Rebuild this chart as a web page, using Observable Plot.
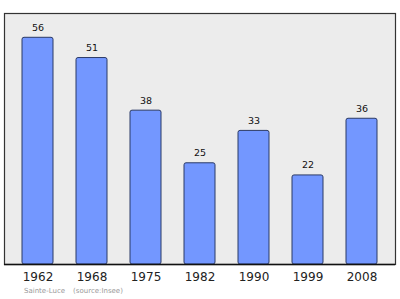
<!DOCTYPE html>
<html>
<head>
<meta charset="utf-8">
<script src="https://cdn.jsdelivr.net/npm/d3@7"></script>
<script src="https://cdn.jsdelivr.net/npm/@observablehq/plot@0.6"></script>
<style>
  body { margin: 0; background: #fff; font-family: "DejaVu Sans", sans-serif; }
  #chart { width: 400px; }
  #chart svg { display: block; }
  .caption { font-size: 7px; line-height: 8px; color: #999; margin: 0 0 0 24px; word-spacing: 1px; }
  .caption span { margin-left: 8px; }
</style>
</head>
<body>
<div id="chart"></div>
<script>
// Population of Sainte-Luce by census year
const years = ["1962", "1968", "1975", "1982", "1990", "1999", "2008"];
const population = [56, 51, 38, 25, 33, 22, 36];

const data = years.map((year, i) => ({year, value: population[i]}));

const plot = Plot.plot({
  width: 400,
  height: 287,
  marginTop: 13,
  marginBottom: 23,
  marginLeft: 4,
  marginRight: 5,
  style: {fontFamily: "DejaVu Sans, sans-serif", background: "transparent"},
  x: {domain: years, paddingInner: 0.42, paddingOuter: 0.28, label: null},
  y: {domain: [0, 62], axis: null},
  marks: [
    Plot.frame({fill: "#ececec", stroke: "#333", strokeWidth: 1.2}),
    Plot.barY(data, {x: "year", y: "value", fill: "#7397ff", stroke: "#2b3a66", strokeWidth: 1, rx: 2}),
    Plot.text(data, {x: "year", y: "value", text: d => String(d.value), dy: -10, fontSize: 9.5, fill: "#111"}),
    Plot.ruleY([0], {stroke: "#111", strokeWidth: 1.5}),
    Plot.axisX({tickSize: 0, tickPadding: 8, fontSize: 12, fill: "#222", label: null})
  ]
});

document.getElementById("chart").append(plot);
const cap = document.createElement("div");
cap.className = "caption";
cap.innerHTML = "Sainte-Luce<span>(source:Insee)</span>";
document.getElementById("chart").append(cap);
</script>
</body>
</html>
